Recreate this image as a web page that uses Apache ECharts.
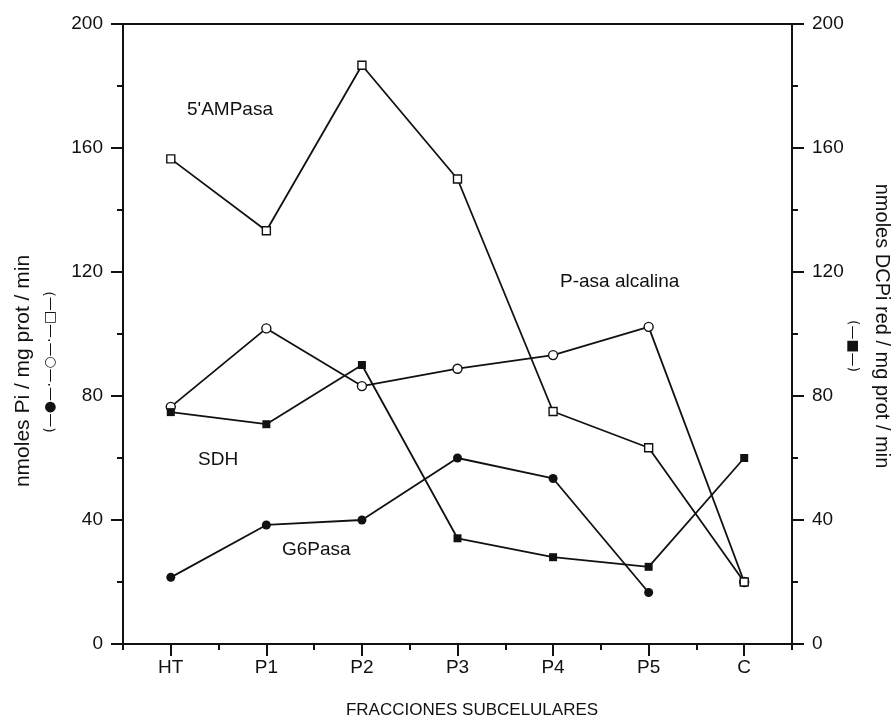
<!DOCTYPE html>
<html>
<head>
<meta charset="utf-8">
<script src="https://cdn.jsdelivr.net/npm/echarts@6/dist/echarts.min.js"></script>
<style>
  html, body { margin: 0; padding: 0; background: #fff; }
  #chart { width: 896px; height: 721px; }
</style>
</head>
<body>
<div id="chart"></div>
<script>
// Fracciones subcelulares
let categories = ['HT', 'P1', 'P2', 'P3', 'P4', 'P5', 'C'];

// left axis: nmoles Pi / mg prot / min
let ampasa = [156.5, 133.3, 186.7, 150, 75, 63.3, 20];
let pasaAlcalina = [76.5, 101.8, 83.2, 88.8, 93.2, 102.3, 20];
let g6pasa = [21.5, 38.4, 40, 60, 53.4, 16.6, null];

// right axis: nmoles DCPi red / mg prot / min
let sdh = [74.8, 70.9, 90, 34.1, 28, 24.9, 60];

let yTicks = [0, 40, 80, 120, 160, 200];

let font = 'Liberation Sans, Arial, sans-serif';
let ink = '#111';

function yAxis(pos) {
    return {
        type: 'value',
        position: pos,
        min: yTicks[0],
        max: yTicks[yTicks.length - 1],
        interval: yTicks[1] - yTicks[0],
        axisLine: { show: true, lineStyle: { color: ink, width: 2 } },
        axisTick: { show: true, inside: false, length: 12, lineStyle: { color: ink, width: 2 } },
        minorTick: { show: true, splitNumber: 2, length: 6, lineStyle: { color: ink, width: 2 } },
        axisLabel: { color: ink, fontSize: 19, fontFamily: font, margin: 20 },
        splitLine: { show: false }
    };
}

function lineSeries(name, data, symbol, filled, axisIndex) {
    return {
        name: name,
        type: 'line',
        data: data,
        yAxisIndex: axisIndex,
        symbol: symbol,
        symbolSize: symbol === 'rect' ? 8 : 9,
        connectNulls: false,
        lineStyle: { color: ink, width: 1.8 },
        itemStyle: {
            color: filled ? ink : '#fff',
            borderColor: ink,
            borderWidth: filled ? 0 : 1.4
        },
        emphasis: { disabled: true },
        animation: false
    };
}

let chart = echarts.init(document.getElementById('chart'));

let option = {
    backgroundColor: '#fff',
    animation: false,
    grid: {
        left: 123, right: 104, top: 24, bottom: 77,
        show: true, borderColor: ink, borderWidth: 2
    },
    xAxis: [
        {
            type: 'category',
            data: categories,
            position: 'bottom',
            boundaryGap: true,
            axisLine: { show: true, lineStyle: { color: ink, width: 2 } },
            axisTick: { show: true, alignWithLabel: true, length: 12, lineStyle: { color: ink, width: 2 } },
            axisLabel: { color: ink, fontSize: 19, fontFamily: font, margin: 14 }
        },
        {
            type: 'category',
            data: categories,
            position: 'bottom',
            boundaryGap: true,
            axisLine: { show: false },
            axisTick: { show: true, length: 6, lineStyle: { color: ink, width: 2 } },
            axisLabel: { show: false }
        }
    ],
    yAxis: [yAxis('left'), yAxis('right')],
    series: [
        lineSeries('G6Pasa', g6pasa, 'circle', true, 0),
        lineSeries('P-asa alcalina', pasaAlcalina, 'circle', false, 0),
        lineSeries('SDH', sdh, 'rect', true, 1),
        lineSeries("5'AMPasa", ampasa, 'rect', false, 0)
    ],
    graphic: [
        { type: 'text', x: 187, y: 110, style: { text: "5'AMPasa", fill: ink, font: '19px ' + font, textVerticalAlign: 'middle' } },
        { type: 'text', x: 560, y: 282, style: { text: 'P-asa alcalina', fill: ink, font: '19px ' + font, textVerticalAlign: 'middle' } },
        { type: 'text', x: 198, y: 460, style: { text: 'SDH', fill: ink, font: '19px ' + font, textVerticalAlign: 'middle' } },
        { type: 'text', x: 282, y: 550, style: { text: 'G6Pasa', fill: ink, font: '19px ' + font, textVerticalAlign: 'middle' } },
        { type: 'text', x: 472, y: 710, style: { text: 'FRACCIONES SUBCELULARES', fill: ink, font: '17px ' + font, textAlign: 'center', textVerticalAlign: 'middle' } },
        { type: 'text', x: 23, y: 371, rotation: Math.PI / 2, style: { text: 'nmoles Pi / mg prot / min', fill: ink, font: '21px ' + font, textAlign: 'center', textVerticalAlign: 'middle' } },
        { type: 'text', x: 50, y: 362, rotation: Math.PI / 2, style: { text: '(\u2014\u25CF\u2014\u00B7\u2014\u25CB\u2014\u00B7\u2014\u25A1\u2014)', fill: ink, font: '14px DejaVu Sans, sans-serif', textAlign: 'center', textVerticalAlign: 'middle' } },
        { type: 'text', x: 882, y: 326, rotation: -Math.PI / 2, style: { text: 'nmoles DCPi red / mg prot / min', fill: ink, font: '20px ' + font, textAlign: 'center', textVerticalAlign: 'middle' } },
        { type: 'text', x: 853, y: 346, rotation: -Math.PI / 2, style: { text: '(\u2014\u25A0\u2014)', fill: ink, font: '14px DejaVu Sans, sans-serif', textAlign: 'center', textVerticalAlign: 'middle' } }
    ]
};

option && chart.setOption(option);
</script>
</body>
</html>
